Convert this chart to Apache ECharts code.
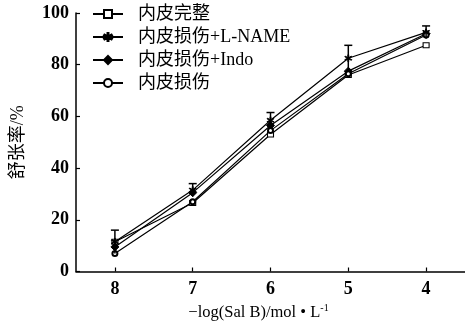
<!DOCTYPE html>
<html><head><meta charset="utf-8">
<script src="https://cdn.jsdelivr.net/npm/echarts@6/dist/echarts.min.js"></script>
<style>html,body{margin:0;padding:0;background:#fff}#c{width:465px;height:330px}</style>
</head><body><div id="c"></div>
<script>
const xValues = [8, 7, 6, 5, 4];
const seriesNames = ['内皮完整', '内皮损伤+L-NAME', '内皮损伤+Indo', '内皮损伤'];
const intact = [11.5, 26.5, 53, 76, 87.5];
const lname = [11.5, 31.5, 58.5, 82.5, 92.5];
const indo = [9.5, 30.5, 56.5, 77.5, 92];
const injured = [7, 27, 54.5, 76.5, 91.5];
const lnameErr = [4.5, 2.5, 3, 5, 2.5];
const yTicks = [0, 20, 40, 60, 80, 100];

const FONT = "'Liberation Serif','Noto Sans CJK SC',serif";
const starPath = 'path://M4.5,0L5.5,0L5.5,3.7L8.7,1.85L9.2,2.7L6,4.6L9.2,6.5L8.7,7.35L5.5,5.5L5.5,9.2L4.5,9.2L4.5,5.5L1.3,7.35L0.8,6.5L4,4.6L0.8,2.7L1.3,1.85L4.5,3.7Z';

function pairs(arr){ return xValues.map((x,i)=>[x, arr[i]]); }

const lineStyle = {color:'#000', width:1.2};
function mkSeries(name, data, symbol, size, fill){
  return {
    name, type:'line', data: pairs(data), symbol, symbolSize: size,
    lineStyle, itemStyle:{color: fill, borderColor:'#000', borderWidth: 1},
    emphasis:{disabled:true}, z: 3
  };
}

const errData = xValues.map((x,i)=>[x, lname[i]-lnameErr[i], lname[i]+lnameErr[i]]);

const chart = echarts.init(document.getElementById('c'), null, {renderer:'canvas'});
chart.setOption({
  animation:false,
  backgroundColor:'#fff',
  grid:{left:76, right:-1, top:13, bottom:58.5, containLabel:false},
  legend:{
    orient:'vertical', left:92, top:5, padding:0, itemWidth:30, itemHeight:10, itemGap:5,
    data: seriesNames,
    textStyle:{fontFamily:FONT, fontSize:18, color:'#000', padding:[0,0,0,10]}
  },
  xAxis:{
    type:'value', inverse:true, min:3.5, max:8.5,
    axisLine:{lineStyle:{color:'#000', width:1.5}},
    axisTick:{inside:true, length:4, lineStyle:{color:'#000', width:1.2}, customValues: xValues},
    axisLabel:{customValues: xValues, fontFamily:FONT, fontSize:18, fontWeight:'bold', color:'#000', margin:9},
    splitLine:{show:false},
    name:'{b|−log(Sal B)/mol • L}{s|-1}', nameLocation:'middle', nameGap:31,
    nameTextStyle:{padding:[0,24,0,0], rich:{
      b:{fontFamily:FONT, fontSize:16.5, color:'#000'},
      s:{fontFamily:FONT, fontSize:10, color:'#000', verticalAlign:'top', padding:[0,0,8,0]}
    }}
  },
  yAxis:{
    type:'value', min:0, max:100, interval:20,
    axisLine:{show:true, lineStyle:{color:'#000', width:1.5}},
    axisTick:{show:true, inside:true, length:4, lineStyle:{color:'#000', width:1.2}},
    axisLabel:{fontFamily:FONT, fontSize:18, fontWeight:'bold', color:'#000', margin:7},
    splitLine:{show:false},
    name:'舒张率/%', nameLocation:'middle', nameGap:49,
    nameTextStyle:{fontFamily:FONT, fontSize:18, color:'#000'}
  },
  series:[
    mkSeries(seriesNames[0], intact, 'rect', [6,5], '#fff'),
    mkSeries(seriesNames[1], lname, starPath, 7, '#000'),
    mkSeries(seriesNames[2], indo, 'diamond', 8, '#000'),
    mkSeries(seriesNames[3], injured, 'emptyCircle', 5, '#000'),
    {
      type:'custom', name:'err', data: errData, z: 4, silent:true,
      renderItem(params, api){
        const x = api.value(0);
        const lo = api.coord([x, api.value(1)]);
        const hi = api.coord([x, api.value(2)]);
        const w = 4;
        const st = {stroke:'#000', lineWidth:1.5};
        return {type:'group', children:[
          {type:'line', shape:{x1:lo[0], y1:lo[1], x2:hi[0], y2:hi[1]}, style:st},
          {type:'line', shape:{x1:hi[0]-w, y1:hi[1], x2:hi[0]+w, y2:hi[1]}, style:st}
        ]};
      }
    }
  ]
});
</script></body></html>
